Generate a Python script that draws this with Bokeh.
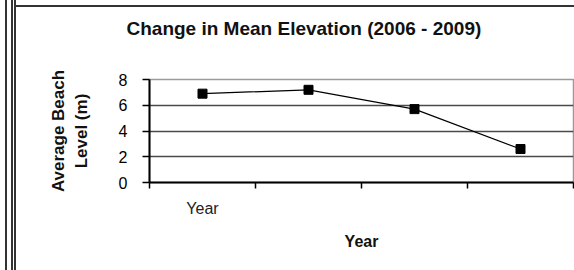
from bokeh.plotting import figure
from bokeh.models import Range1d, FixedTicker, Title
from bokeh.embed import file_html
from bokeh.resources import INLINE

# ---- data ----
categories = ["Year", "", "", ""]
elevation = [6.9, 7.2, 5.7, 2.6]
y_ticks = [0, 2, 4, 6, 8]
title_text = "Change in Mean Elevation (2006 - 2009)"
y_title = "Average Beach\nLevel (m)"
x_title = "Year"

FONT = "Liberation Sans"

# ---- layout (pixels) ----
W, H = 574, 270
FL, FW, FT, FH = 149, 424, 79, 103
YMAX = 8
NX = len(categories)

xs = [i + 0.5 for i in range(NX)]
bounds = list(range(NX + 1))

p = figure(
    width=W, height=H,
    frame_width=FW, frame_height=FH,
    min_border_left=FL, min_border_right=W - FL - FW,
    min_border_top=FT, min_border_bottom=H - FT - FH,
    x_range=Range1d(0, NX), y_range=Range1d(0, YMAX),
    output_backend="svg", toolbar_location=None,
)
p.title_location = None
p.background_fill_color = "white"
p.border_fill_alpha = 0.0
p.outline_line_color = "#9a9a9a"
p.outline_line_width = 1.5

# frame lines of the surrounding box (drawn as CSS inset shadows, no layout space)
p.styles = {
    "background-color": "white",
    "box-shadow": ", ".join([
        "inset 5px 0 0 0 #ffffff", "inset 7px 0 0 0 #333333",
        "inset 11px 0 0 0 #ffffff", "inset 13px 0 0 0 #333333",
        "inset 14px 0 0 0 #ffffff", "inset 16px 0 0 0 #333333",
        "inset 0 5px 0 0 #ffffff", "inset 0 7px 0 0 #333333",
    ]),
}

# title: an empty spacer title next to the frame, the real title above it
p.add_layout(Title(text=" ", text_font_size="10px", standoff=28), "above")
p.add_layout(Title(text=title_text, text_font=FONT, text_font_size="19px",
                   text_font_style="bold", text_color="#111111",
                   align="left", offset=-23, standoff=0), "above")

# grid
p.xgrid.grid_line_color = None
p.ygrid.ticker = FixedTicker(ticks=y_ticks)
p.ygrid.grid_line_color = "#4a4a4a"
p.ygrid.grid_line_width = 1.5

# y axis
ya = p.yaxis[0]
ya.ticker = FixedTicker(ticks=y_ticks)
ya.axis_line_color = "black"
ya.axis_line_width = 2
ya.major_tick_out = 7
ya.major_tick_in = 0
ya.major_tick_line_color = "black"
ya.major_tick_line_width = 1.5
ya.minor_tick_line_color = None
ya.major_label_text_font = FONT
ya.major_label_text_font_size = "16px"
ya.major_label_text_color = "black"
ya.major_label_standoff = 15
ya.axis_label = y_title
ya.axis_label_text_font = FONT
ya.axis_label_text_font_size = "17px"
ya.axis_label_text_font_style = "bold"
ya.axis_label_text_color = "#111111"
ya.axis_label_standoff = 25

# x axis: labels at category centres, tick marks at category boundaries
xa = p.xaxis[0]
xa.ticker = FixedTicker(ticks=xs, minor_ticks=bounds)
xa.major_label_overrides = {x: c for x, c in zip(xs, categories)}
xa.axis_line_color = "black"
xa.axis_line_width = 2
xa.major_tick_out = 0
xa.major_tick_in = 0
xa.major_tick_line_color = None
xa.minor_tick_out = 6
xa.minor_tick_in = 0
xa.minor_tick_line_color = "black"
xa.minor_tick_line_width = 1.5
xa.major_label_text_font = FONT
xa.major_label_text_font_size = "16px"
xa.major_label_text_color = "#222222"
xa.major_label_standoff = 11
xa.axis_label = x_title
xa.axis_label_text_font = FONT
xa.axis_label_text_font_size = "16px"
xa.axis_label_text_font_style = "bold"
xa.axis_label_text_color = "#111111"
xa.axis_label_standoff = 13

# series
p.line(xs, elevation, line_color="black", line_width=1.2)
p.scatter(xs, elevation, marker="square", size=9, fill_color="black", line_color="black")

open("out.html", "w").write(file_html(p, INLINE))
